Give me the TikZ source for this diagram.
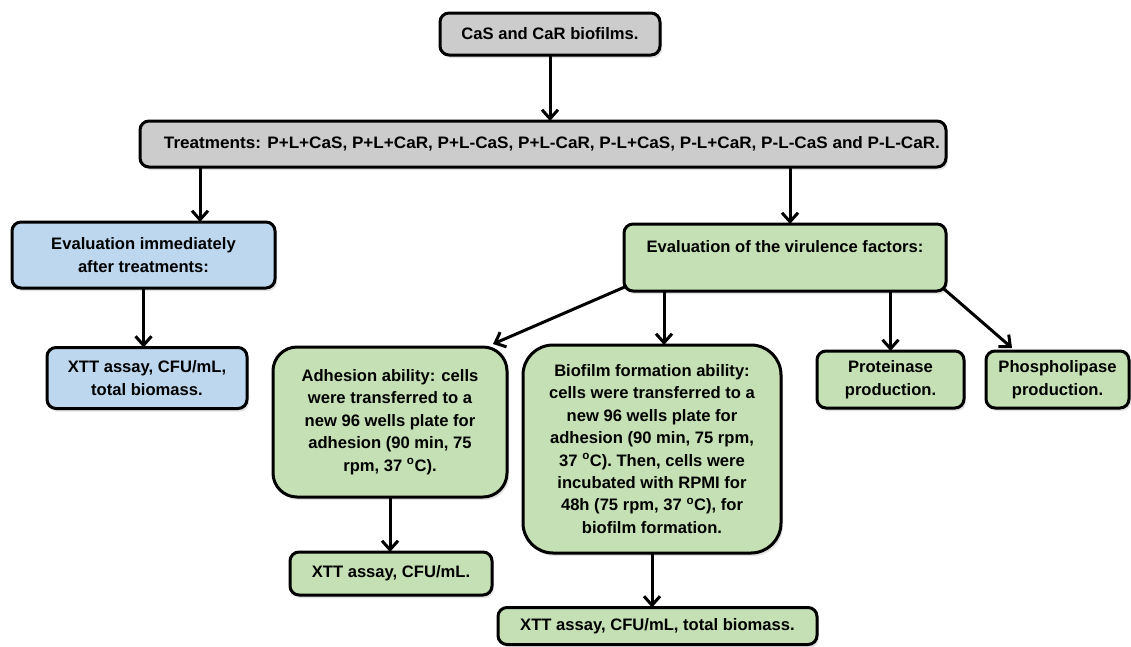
\documentclass[tikz,border=0pt]{standalone}
\usepackage{fontspec}
\setmainfont{Liberation Sans}
\usepackage{graphicx}
\usetikzlibrary{arrows.meta,calc,shadows}
\definecolor{boxgray}{RGB}{204,204,204}
\definecolor{boxblue}{RGB}{189,215,238}
\definecolor{boxgreen}{RGB}{197,224,180}
\tikzset{
  box/.style={draw=black, line width=3pt, rounded corners=9pt, inner sep=0pt, outer sep=0pt,
    align=center, font=\fontsize{16.6pt}{22.4pt}\selectfont\bfseries,
    drop shadow={opacity=0.22, shadow xshift=2pt, shadow yshift=-3pt}},
  graybox/.style={box, fill=boxgray},
  bluebox/.style={box, fill=boxblue},
  greenbox/.style={box, fill=boxgreen},
  arr/.style={line width=3pt, -{Straight Barb[length=9pt,width=16pt,line width=3pt]}},
}
\begin{document}
\begin{tikzpicture}[x=1pt,y=-1pt]
\useasboundingbox (0,0) rectangle (1131,646);
\node[graybox, minimum width=220pt, minimum height=42pt] (top) at (550,34) {CaS and CaR biofilms.};
\node[graybox, minimum width=806pt, minimum height=46pt] (treat) at (543,144)
  {\hspace*{18pt}\resizebox{776pt}{\height}{Treatments: P+L+CaS, P+L+CaR, P+L-CaS, P+L-CaR, P-L+CaS, P-L+CaR, P-L-CaS and P-L-CaR.}};
\node[bluebox, minimum width=263pt, minimum height=66pt] (blue1) at (143.5,255) {Evaluation immediately\\after treatments:};
\node[bluebox, minimum width=200pt, minimum height=61pt] (blue2) at (147,378) {XTT assay, CFU/mL,\\total biomass.};
\node[greenbox, minimum width=322pt, minimum height=67pt] (vir) at (785,257.5) {Evaluation of the virulence factors:\\\mbox{}};
\node[greenbox, rounded corners=24pt, minimum width=234pt, minimum height=150pt] (adh) at (390,422)
  {Adhesion ability: cells\\were transferred to a\\new 96 wells plate for\\adhesion (90 min, 75\\rpm, 37 \textsuperscript{o}C).};
\node[greenbox, minimum width=202pt, minimum height=43pt] (xtta) at (391,573.5) {XTT assay, CFU/mL.};
\node[greenbox, rounded corners=30pt, minimum width=258pt, minimum height=208pt] (bio) at (652,449)
  {Biofilm formation ability:\\cells were transferred to a\\new 96 wells plate for\\adhesion (90 min, 75 rpm,\\37 \textsuperscript{o}C). Then, cells were\\incubated with RPMI for\\48h (75 rpm, 37 \textsuperscript{o}C), for\\biofilm formation.};
\node[greenbox, minimum width=319pt, minimum height=37pt] (xttb) at (657.5,626) {XTT assay, CFU/mL, total biomass.};
\node[greenbox, minimum width=147pt, minimum height=57pt] (prot) at (890.5,379.5) {Proteinase\\production.};
\node[greenbox, minimum width=143pt, minimum height=57pt] (phos) at (1057.5,379.5) {Phospholipase\\production.};
% connector anchor points
\coordinate (b1in) at ($(blue1.north west)+(188,0)$);
\coordinate (virin) at ($(vir.north west)+(166,0)$);
\coordinate (virbio) at ($(vir.south west)+(40,0)$);
\coordinate (viradh) at ($(vir.south west)+(3,-5)$);
\coordinate (adhin) at ($(adh.north east)+(-14,-3)$);
\coordinate (virphos) at ($(vir.south east)+(-2,-2)$);
\coordinate (phosin) at ($(phos.north west)+(26,-3)$);
\draw[arr] (top.south) -- (top.south |- treat.north);
\draw[arr] (treat.south -| b1in) -- (b1in);
\draw[arr] (treat.south -| virin) -- (virin);
\draw[arr] (blue1.south) -- (blue1.south |- blue2.north);
\draw[arr] (viradh) -- (adhin);
\draw[arr] (virbio) -- (virbio |- bio.north);
\draw[arr] (vir.south -| prot.north) -- (prot.north);
\draw[arr] (virphos) -- (phosin);
\draw[arr] (adh.south) -- (adh.south |- xtta.north);
\draw[arr] (bio.south) -- (bio.south |- xttb.north);
\end{tikzpicture}
\end{document}
